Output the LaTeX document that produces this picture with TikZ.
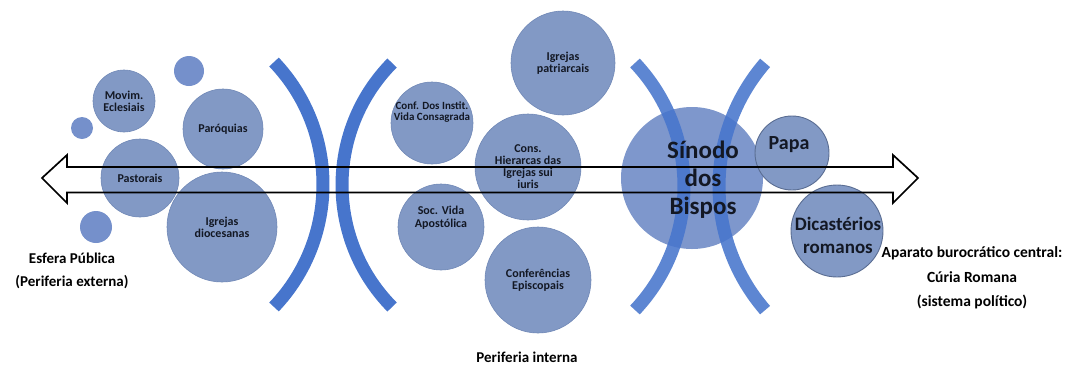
\documentclass[tikz,border=0pt]{standalone}
\usepackage{fontspec}
\setmainfont{Carlito}
\definecolor{bubfill}{HTML}{8299C5}
\definecolor{bubline}{HTML}{7088B6}
\definecolor{dotfill}{HTML}{7590CB}
\definecolor{sinfill}{HTML}{7E97CC}
\definecolor{bandcol}{HTML}{4775CC}
\definecolor{txtcol}{HTML}{131824}
\begin{document}
\begin{tikzpicture}[x=1pt,y=-1pt,
  bub/.style={circle, fill=bubfill, draw=bubline, line width=0.6pt, inner sep=0pt,
    text=txtcol, font=\bfseries\fontsize{12}{12}\selectfont, align=center},
  dot/.style={circle, fill=dotfill, draw=none, inner sep=0pt},
  ringline/.style={draw=bubline!80!black, line width=0.9pt},
  band/.style={draw=bandcol, line width=13pt},
  intxt/.style={text=txtcol, inner sep=0pt, align=center},
  lab/.style={font=\bfseries\fontsize{15}{23}\selectfont, text=black, inner sep=0pt, align=center},
  blockarrow/.style={draw=black, line width=1.7pt, line join=miter}]
\useasboundingbox (0,0) rectangle (1067,365);

% left group
\node[dot, minimum size=30pt] (s1) at (189,71) {};
\node[dot, minimum size=22pt] (s2) at (82,128) {};
\node[dot, minimum size=32pt] (s3) at (96,227) {};
\node[bub, minimum size=62pt] (movim) at (124,101) {Movim.\\Eclesiais};
\node[bub, minimum size=80pt] (paroq) at (223,129) {Paróquias};
\node[bub, minimum size=78pt] (pastor) at (140,178) {Pastorais};
\node[bub, minimum size=110pt] (dioc) at (222,227) {Igrejas\\diocesanas};

% middle group
\node[bub, minimum size=82pt] (conf) at (432,123) {};
\node[intxt, font=\bfseries\fontsize{11}{10.5}\selectfont] (conft) at ([yshift=11pt]conf.center) {Conf. Dos Instit.\\Vida Consagrada};
\node[bub, minimum size=104pt] (patri) at (563,63) {Igrejas\\patriarcais};
\node[bub, minimum size=106pt] (hier) at (528,167) {Cons.\\Hierarcas das\\Igrejas sui\\iuris};
\node[bub, minimum size=86pt] (soc) at (441,227) {};
\node[intxt, font=\bfseries\fontsize{12}{13}\selectfont] (soct) at ([yshift=9pt]soc.center) {Soc. Vida\\Apostólica};
\node[bub, minimum size=106pt] (epis) at (538,280) {Conferências\\Episcopais};

% right group
\node[circle, fill=sinfill, draw=none, inner sep=0pt, minimum size=142pt] (sinodo) at (692,178) {};
\node[bub, ringline, minimum size=74pt] (papa) at (792,153) {};
\node[bub, ringline, minimum size=92pt] (dicas) at (837,231) {};

% bands
\draw[band] (145.4,184.5) ++(-43.6:177.6) arc[start angle=-43.6, end angle=43.6, radius=177.6];
\draw[band] (515.8,185) ++(224.6:173.8) arc[start angle=224.6, end angle=135.4, radius=173.8];
\draw[band, draw opacity=0.88] (503.9,186.5) ++(-43.3:180.1) arc[start angle=-43.3, end angle=43.3, radius=180.1];
\draw[band, draw opacity=0.88] (907.8,186.5) ++(220.9:188.8) arc[start angle=220.9, end angle=139.1, radius=188.8];

% texts of right group
\node[intxt, font=\bfseries\fontsize{25}{28}\selectfont] (sinodot) at ([xshift=11pt,yshift=-2pt]sinodo.center) {Sínodo\\dos\\Bispos};
\node[intxt, font=\bfseries\fontsize{20}{23}\selectfont] (papat) at ([xshift=-3pt,yshift=8pt]papa.center) {Papa};
\node[intxt, font=\bfseries\fontsize{19}{23}\selectfont] (dicast) at ([xshift=1pt,yshift=-4pt]dicas.center) {Dicastérios\\romanos};

% block arrow
\draw[blockarrow] (42,178) -- (67,155) -- (67,167) -- (893,167) -- (893,155) -- (918,178)
  -- (893,203) -- (893,192.5) -- (67,192.5) -- (67,203) -- cycle;

% labels
\node[lab] (esfera) at (72,271) {Esfera Pública\\(Periferia externa)};
\node[lab] (perint) at (527,357) {Periferia interna};
\node[lab, font=\bfseries\fontsize{15.5}{24.5}\selectfont] (aparato) at (972,278) {Aparato burocrático central:\\Cúria Romana\\(sistema político)};
\end{tikzpicture}
\end{document}
